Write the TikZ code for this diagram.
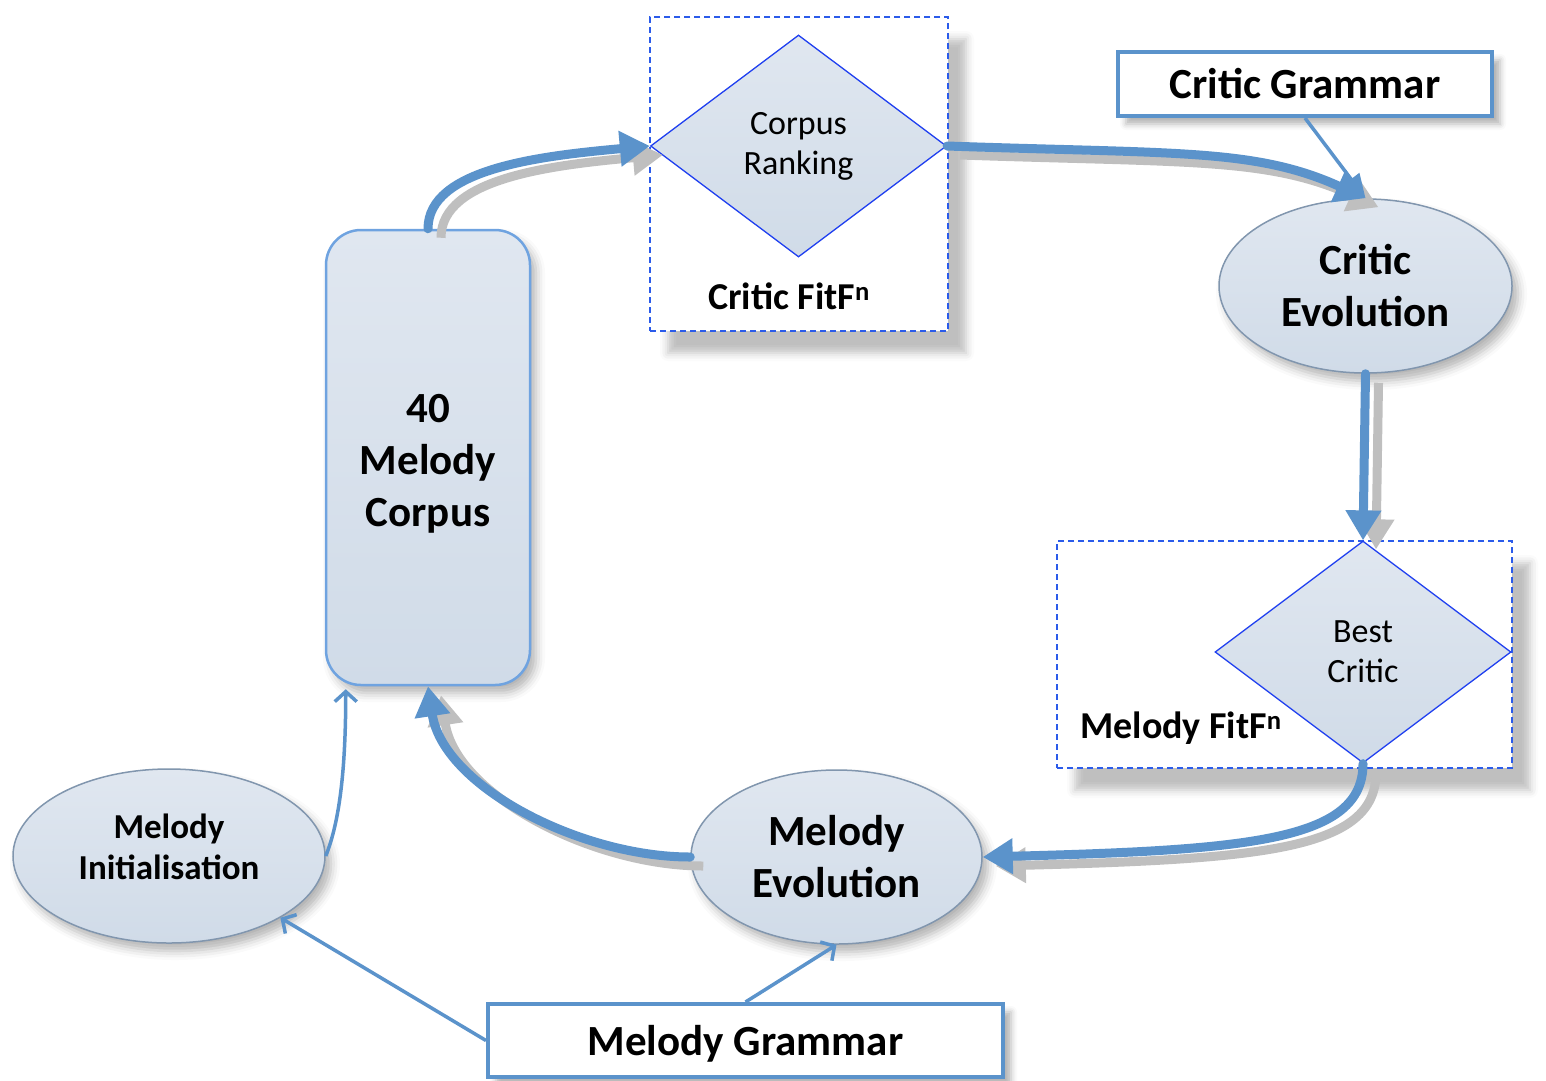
\documentclass[tikz,border=0pt]{standalone}
\usepackage{fontspec}
\setmainfont{Carlito}
\usetikzlibrary{shapes.geometric,arrows.meta,calc,shadows.blur}
\definecolor{linkblue}{HTML}{5B93CB}
\definecolor{boxblue}{HTML}{6FA3E0}
\definecolor{dashblue}{HTML}{2B5BEA}
\definecolor{diablue}{HTML}{2040F0}
\definecolor{filltop}{HTML}{E0E7F0}
\definecolor{fillbot}{HTML}{D0DBE8}
\definecolor{rimgray}{HTML}{8196AE}

\begin{document}
\begin{tikzpicture}[x=1pt,y=1pt]
\tikzstyle{every node}+=[inner sep=0pt,align=center]
\tikzstyle{soft}=[top color=filltop,bottom color=fillbot,blur shadow={shadow xshift=6pt,shadow yshift=-8pt,shadow blur radius=9pt,shadow opacity=30}]
\tikzstyle{blob}=[ellipse,soft,draw=rimgray,line width=1.5pt,font=\fontsize{43}{52}\selectfont\bfseries]
\tikzstyle{dec}=[diamond,top color=filltop,bottom color=fillbot,draw=diablue,line width=1.3pt,minimum width=296,minimum height=222,font=\fontsize{34}{40}\selectfont]
\tikzstyle{frame}=[draw=dashblue,fill=white,line width=1.5pt,dash pattern=on 6pt off 4pt,blur shadow={shadow xshift=18pt,shadow yshift=-22pt,shadow blur radius=8pt,shadow opacity=25}]
\tikzstyle{gram}=[draw=linkblue,fill=white,line width=4pt,font=\fontsize{43}{52}\selectfont\bfseries,blur shadow={shadow xshift=8pt,shadow yshift=-8pt,shadow blur radius=6pt,shadow opacity=30}]
\tikzstyle{lbl}=[font=\fontsize{38}{46}\selectfont\bfseries]
\tikzstyle{flow}=[draw=linkblue,line width=9pt,line cap=round,-{Triangle[length=30pt,width=34pt]},preaction={draw=black!25,line width=9pt,transform canvas={shift={(13pt,-9pt)}}}]
\tikzstyle{feed}=[draw=linkblue,line width=3.5pt]
\useasboundingbox (0,0) rectangle (1546,-1080);

\node[frame,minimum width=298,minimum height=314] (critframe) at (799,-174) {};
\node[frame,minimum width=455,minimum height=227] (melframe) at (1284.5,-654.5) {};

\node[draw=boxblue,line width=2.5pt,rounded corners=35pt,soft,minimum width=204,minimum height=455,font=\fontsize{43}{52}\selectfont\bfseries] (corpus) at (428,-457.5) {\rule{0pt}{41pt}40\\Melody\\Corpus};
\node[dec] (rank) at (798.5,-146) {Corpus\\Ranking};
\node[lbl] (critfit) at (789,-296) {Critic FitF\textsuperscript{n}};
\node[gram,minimum width=374,minimum height=64] (cgram) at (1305,-84) {Critic Grammar};
\node[blob,minimum width=293,minimum height=174] (cevo) at (1365.5,-286) {Critic\\Evolution};
\node[dec] (best) at (1363,-652) {Best\\Critic};
\node[lbl] (melfit) at (1181,-728) {Melody FitF\textsuperscript{n}};
\node[blob,minimum width=291,minimum height=174] (mevo) at (836.5,-857) {Melody\\Evolution};
\node[blob,minimum width=312,minimum height=174,font=\fontsize{35}{41}\selectfont\bfseries] (minit) at (169,-856) {Melody\\Initialisation\rule[-19pt]{0pt}{0pt}};
\node[gram,minimum width=515,minimum height=73] (mgram) at (745.5,-1040.5) {\rule{0pt}{36pt}Melody Grammar};

\draw[flow] (corpus.north) .. controls +(0,60) and +(-110,-10) .. (rank.west);
\draw[flow] (rank.east) .. controls +(230,-8) and +(-110,50) .. (cevo.north);
\draw[feed,-{Triangle[length=24pt,width=20pt]}] (cgram.south) -- (cevo.north);
\draw[flow] (cevo.south) -- (best.north);
\draw[flow] (best.south) .. controls +(0,-77) and +(268,7) .. (mevo.east);
\draw[flow] (mevo.west) .. controls +(-110,0) and +(15,-100) .. (corpus.south);
\draw[feed,-{Straight Barb[length=10pt,width=22pt]}] (minit.east) .. controls +(12,30) and +(0,-90) .. ($(corpus.south west)+(21,-3)$);
\draw[feed,-{Straight Barb[length=10pt,width=22pt]}] (mgram.north) -- (mevo.south);
\draw[feed,-{Straight Barb[length=10pt,width=22pt]}] (mgram.west) -- (minit.-29);
\end{tikzpicture}
\end{document}
